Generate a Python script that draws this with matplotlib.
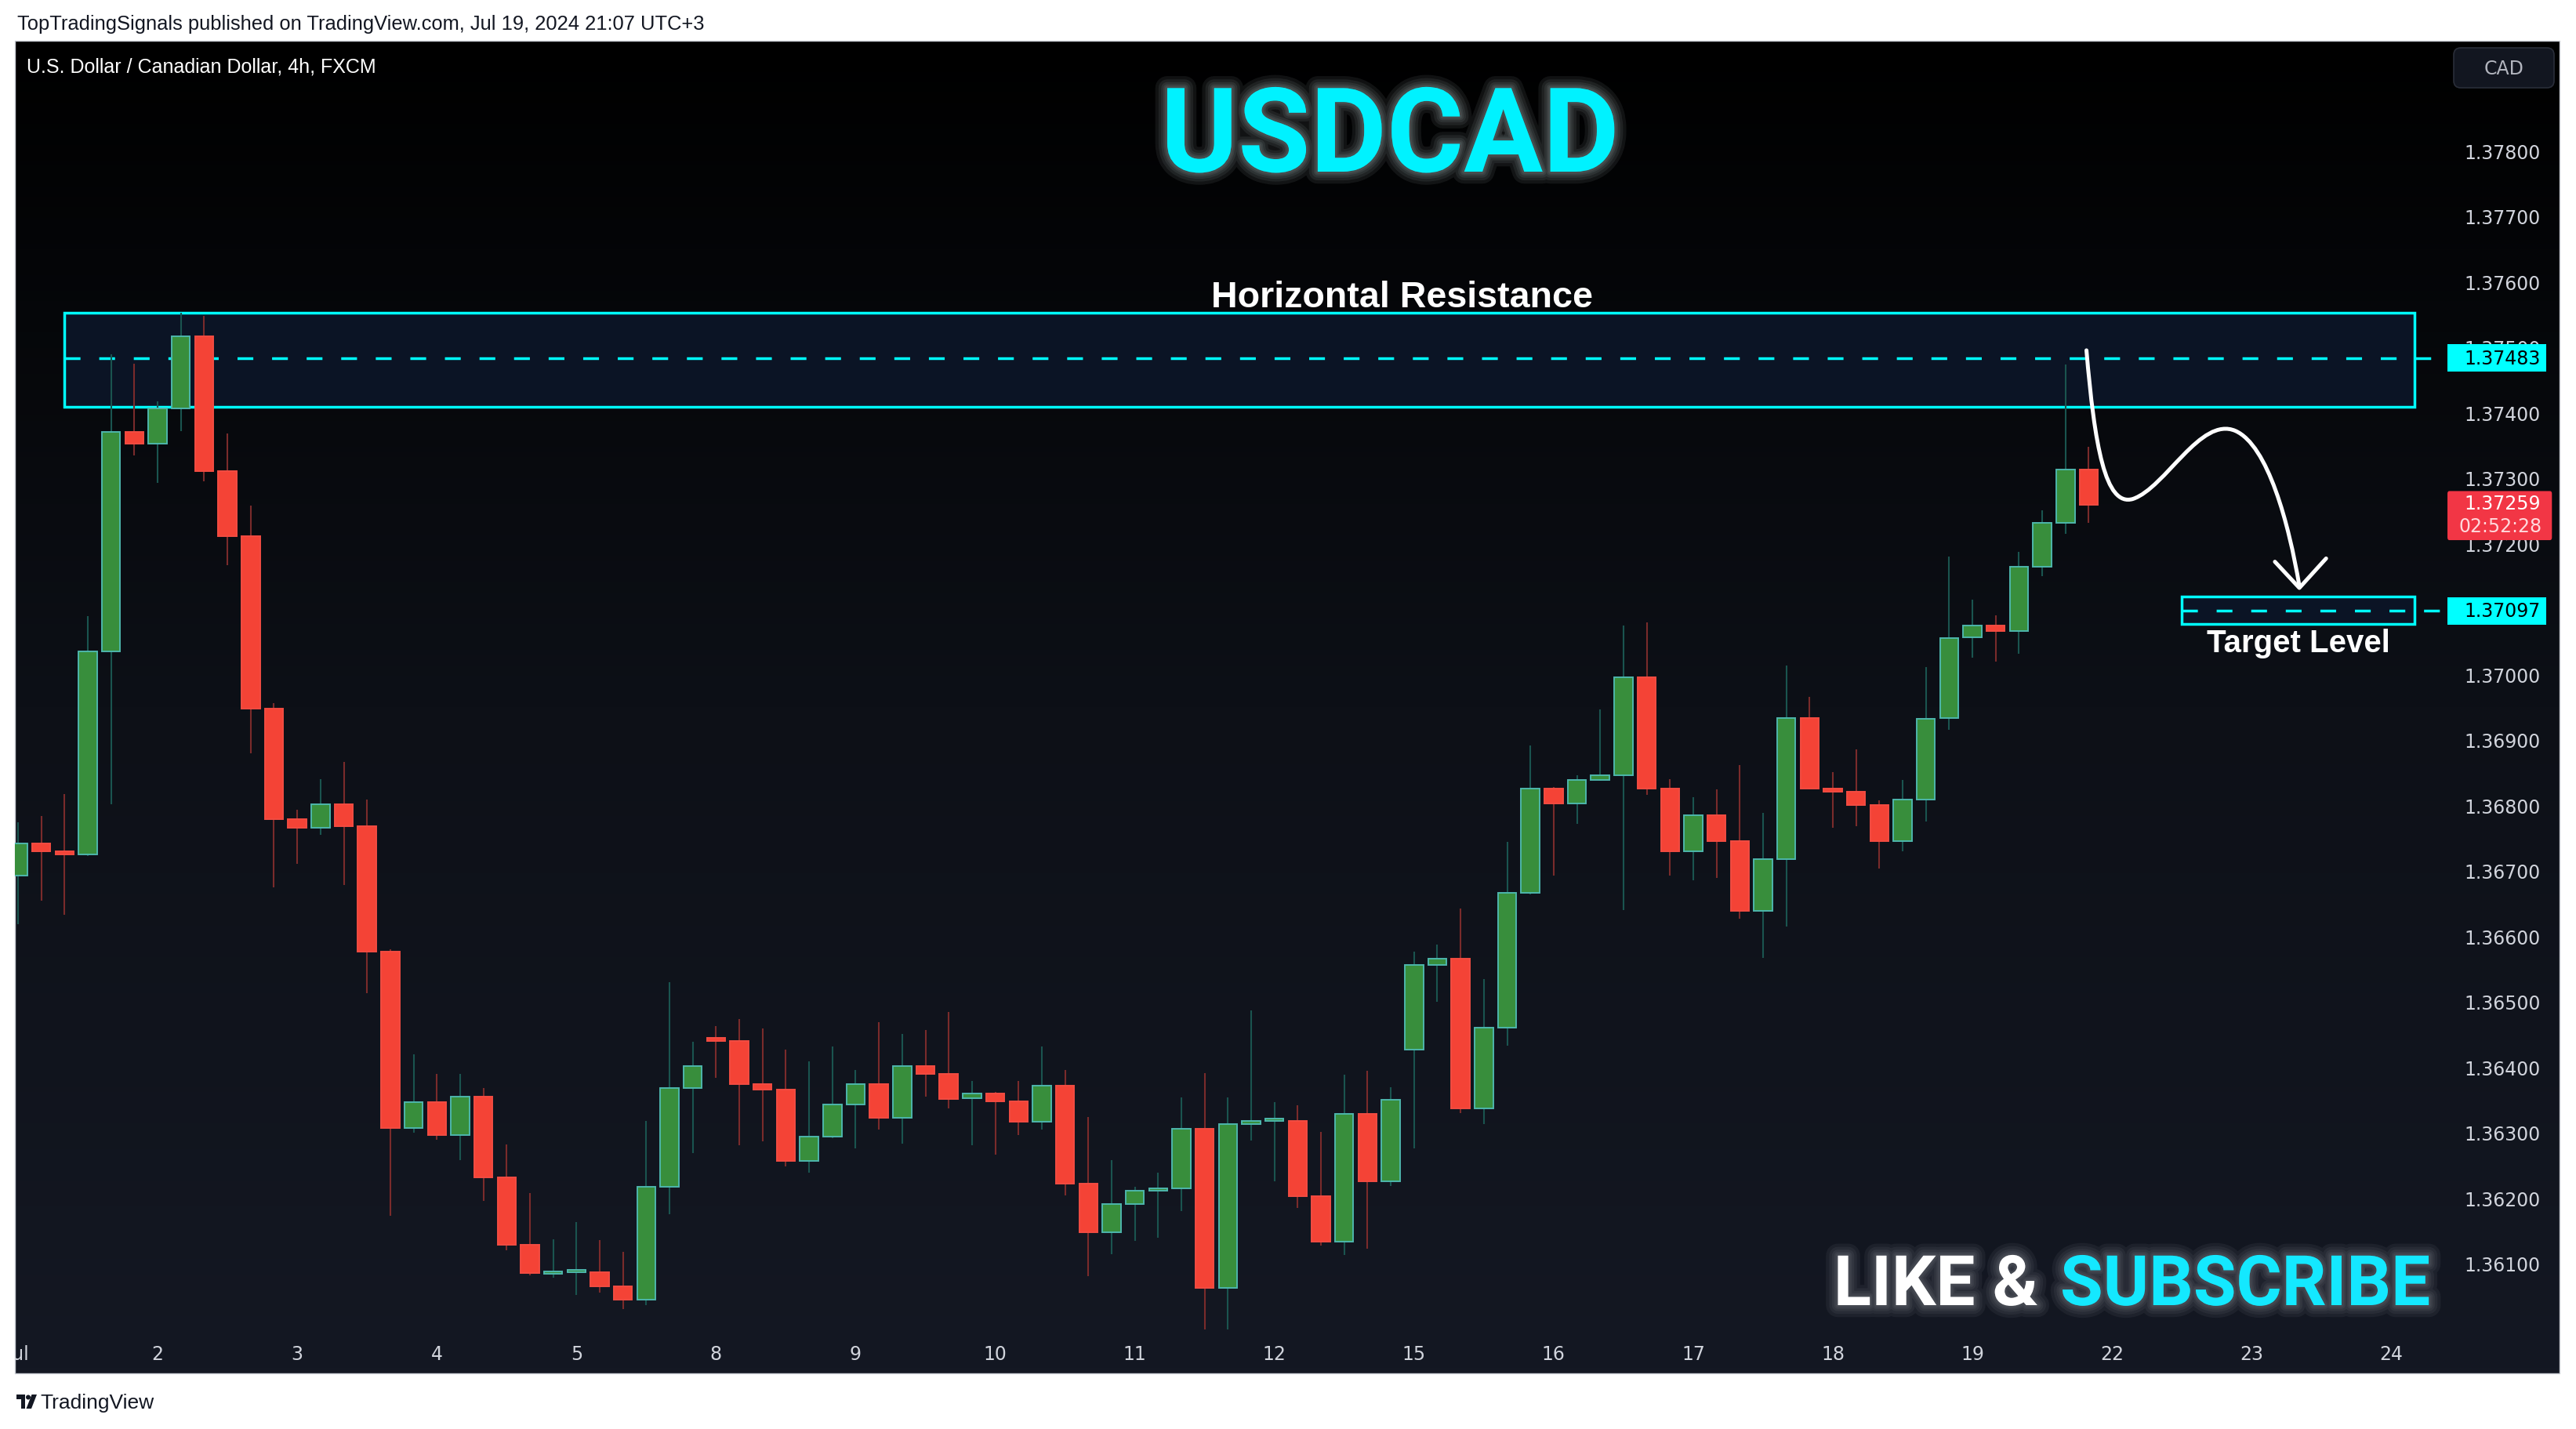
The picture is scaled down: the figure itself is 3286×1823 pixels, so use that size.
import matplotlib
matplotlib.use('Agg')
import matplotlib.pyplot as plt
import matplotlib.font_manager as fm
import numpy as np
from matplotlib import patheffects as pe
from matplotlib.colors import LinearSegmentedColormap
from matplotlib.patches import Rectangle, FancyBboxPatch, PathPatch, Polygon, Circle
from matplotlib.path import Path
from matplotlib.transforms import Affine2D


###############################################################################
# Data (USDCAD, 4h bars, FXCM)
###############################################################################

day_labels = ['Jul', '2', '3', '4', '5', '8', '9', '10', '11', '12',
              '15', '16', '17', '18', '19', '22', '23', '24']
bars_per_day = 6

opens = [
    1.36693, 1.36741, 1.36730, 1.36725, 1.37035, 1.37370,
    1.37352, 1.37406, 1.37516, 1.37310, 1.37211, 1.36948,
    1.36779, 1.36765, 1.36801, 1.36768, 1.36576, 1.36307,
    1.36346, 1.36296, 1.36355, 1.36231, 1.36128, 1.36084,
    1.36086, 1.36087, 1.36065, 1.36045, 1.36217, 1.36368,
    1.36445, 1.36440, 1.36374, 1.36365, 1.36256, 1.36294,
    1.36343, 1.36374, 1.36322, 1.36401, 1.36390, 1.36352,
    1.36359, 1.36347, 1.36316, 1.36372, 1.36222, 1.36147,
    1.36191, 1.36211, 1.36214, 1.36306, 1.36063, 1.36313,
    1.36317, 1.36318, 1.36203, 1.36133, 1.36328, 1.36225,
    1.36426, 1.36556, 1.36565, 1.36337, 1.36460, 1.36666,
    1.36826, 1.36803, 1.36839, 1.36846, 1.36995, 1.36826,
    1.36730, 1.36785, 1.36745, 1.36639, 1.36718, 1.36933,
    1.36826, 1.36821, 1.36800, 1.36745, 1.36809, 1.36933,
    1.37056, 1.37074, 1.37066, 1.37164, 1.37232, 1.37313,
]
highs = [
    1.36774, 1.36784, 1.36817, 1.37089, 1.37489, 1.37474,
    1.37417, 1.37552, 1.37548, 1.37368, 1.37258, 1.36956,
    1.36793, 1.36840, 1.36866, 1.36809, 1.36580, 1.36419,
    1.36390, 1.36390, 1.36368, 1.36282, 1.36207, 1.36137,
    1.36163, 1.36135, 1.36117, 1.36317, 1.36530, 1.36438,
    1.36462, 1.36473, 1.36459, 1.36427, 1.36409, 1.36431,
    1.36396, 1.36469, 1.36450, 1.36456, 1.36484, 1.36379,
    1.36362, 1.36379, 1.36431, 1.36395, 1.36323, 1.36258,
    1.36217, 1.36239, 1.36353, 1.36391, 1.36354, 1.36487,
    1.36346, 1.36342, 1.36301, 1.36388, 1.36394, 1.36369,
    1.36576, 1.36587, 1.36642, 1.36534, 1.36744, 1.36891,
    1.36828, 1.36846, 1.36946, 1.37075, 1.37079, 1.36840,
    1.36812, 1.36824, 1.36861, 1.36788, 1.37014, 1.36965,
    1.36850, 1.36885, 1.36808, 1.36839, 1.37011, 1.37180,
    1.37114, 1.37090, 1.37187, 1.37250, 1.37473, 1.37348,
]
lows = [
    1.36618, 1.36654, 1.36633, 1.36722, 1.36801, 1.37335,
    1.37293, 1.37372, 1.37295, 1.37167, 1.36879, 1.36674,
    1.36711, 1.36755, 1.36678, 1.36513, 1.36173, 1.36300,
    1.36289, 1.36258, 1.36196, 1.36120, 1.36082, 1.36078,
    1.36052, 1.36055, 1.36030, 1.36036, 1.36175, 1.36268,
    1.36384, 1.36281, 1.36287, 1.36248, 1.36239, 1.36291,
    1.36276, 1.36305, 1.36283, 1.36355, 1.36337, 1.36281,
    1.36266, 1.36296, 1.36304, 1.36204, 1.36080, 1.36114,
    1.36134, 1.36139, 1.36180, 1.35990, 1.35990, 1.36288,
    1.36225, 1.36185, 1.36127, 1.36113, 1.36122, 1.36218,
    1.36276, 1.36500, 1.36330, 1.36313, 1.36433, 1.36664,
    1.36693, 1.36771, 1.36837, 1.36640, 1.36816, 1.36692,
    1.36685, 1.36689, 1.36627, 1.36567, 1.36615, 1.36824,
    1.36766, 1.36768, 1.36703, 1.36730, 1.36775, 1.36915,
    1.37026, 1.37020, 1.37031, 1.37150, 1.37215, 1.37232,
]
closes = [
    1.36741, 1.36729, 1.36725, 1.37035, 1.37370, 1.37352,
    1.37406, 1.37516, 1.37310, 1.37211, 1.36948, 1.36779,
    1.36765, 1.36801, 1.36768, 1.36576, 1.36307, 1.36346,
    1.36296, 1.36355, 1.36231, 1.36128, 1.36085, 1.36086,
    1.36088, 1.36065, 1.36044, 1.36217, 1.36368, 1.36402,
    1.36440, 1.36374, 1.36365, 1.36256, 1.36294, 1.36343,
    1.36374, 1.36322, 1.36401, 1.36390, 1.36351, 1.36359,
    1.36347, 1.36316, 1.36372, 1.36222, 1.36147, 1.36191,
    1.36211, 1.36214, 1.36306, 1.36063, 1.36313, 1.36317,
    1.36319, 1.36203, 1.36133, 1.36328, 1.36225, 1.36350,
    1.36556, 1.36565, 1.36337, 1.36460, 1.36666, 1.36826,
    1.36803, 1.36839, 1.36846, 1.36995, 1.36826, 1.36730,
    1.36785, 1.36745, 1.36639, 1.36718, 1.36933, 1.36826,
    1.36821, 1.36800, 1.36745, 1.36809, 1.36932, 1.37055,
    1.37074, 1.37066, 1.37164, 1.37232, 1.37313, 1.37259,
]

price_ticks = [1.361, 1.362, 1.363, 1.364, 1.365, 1.366, 1.367, 1.368, 1.369,
               1.370, 1.371, 1.372, 1.373, 1.374, 1.375, 1.376, 1.377, 1.378]

# Drawn zones
resistance_zone = (1.37409, 1.37553)
resistance_level = 1.37483
target_zone = (1.37077, 1.37119)
target_level = 1.37097
countdown = '02:52:28'


###############################################################################
# Layout / style
###############################################################################

W, H, DPI = 3286, 1824, 200
X_LEFT, X_RIGHT = -0.135, 104.28
Y_LOW, Y_HIGH = 1.35999, 1.37968

CYAN = '#00ffff'
UP_FILL, UP_EDGE, UP_WICK = '#388e3c', '#4db6ac', '#1a544f'
DN_FILL, DN_EDGE, DN_WICK = '#f44336', '#f24c42', '#7a2b2b'
AXIS_TEXT = '#d1d4dc'

installed = {f.name for f in fm.fontManager.ttflist}
NARROW = 'Liberation Sans Narrow' if 'Liberation Sans Narrow' in installed else 'Roboto'
UI = 'Liberation Sans'

plt.rcParams['font.family'] = ['DejaVu Sans']

# Pixel coordinates, origin top-left (figure dpi == save dpi)
px = Affine2D().scale(1, -1).translate(0, H)


def glow(color, widths=(11, 8, 5.5, 3.5, 2), alpha=0.07):
    """Soft neon glow made of stacked translucent strokes"""
    effects = [pe.Stroke(linewidth=w, foreground=color, alpha=alpha)
               for w in widths]
    return effects + [pe.Normal()]


###############################################################################
# Figure and panel
###############################################################################

figure = plt.figure(figsize=(W / DPI, H / DPI), dpi=DPI, facecolor='white')

panel = figure.add_axes([19 / W, 1 - 1753 / H, 3246 / W, 1700 / H])
cmap = LinearSegmentedColormap.from_list('tv', ['#000000', '#0d1017', '#141823'])
panel.imshow(np.linspace(0, 1, 256).reshape(-1, 1), cmap=cmap, aspect='auto',
             extent=(0, 1, 0, 1))
panel.set_axis_off()
figure.add_artist(Rectangle((19, 53), 3246, 1700, transform=px, fill=False,
                            edgecolor='#c9ccd3', linewidth=0.5))

ax = figure.add_axes([19 / W, 1 - 1697 / H, 3099 / W, 1644 / H])
ax.set_zorder(2)
ax.set_facecolor('none')
ax.set_xlim(X_LEFT, X_RIGHT)
ax.set_ylim(Y_LOW, Y_HIGH)
for spine in ax.spines.values():
    spine.set_visible(False)


###############################################################################
# Candles
###############################################################################

idx = np.arange(len(closes))
o, h, l, c = map(np.array, (opens, highs, lows, closes))
up = c >= o
body_lo = np.minimum(o, c)
body_h = np.maximum(np.abs(c - o), 0.00004)

ax.vlines(idx[up], l[up], h[up], colors=UP_WICK, linewidth=0.75, zorder=3)
ax.vlines(idx[~up], l[~up], h[~up], colors=DN_WICK, linewidth=0.75, zorder=3)
ax.bar(idx[up], body_h[up], bottom=body_lo[up], width=0.79, color=UP_FILL,
       edgecolor=UP_EDGE, linewidth=0.7, zorder=4)
ax.bar(idx[~up], body_h[~up], bottom=body_lo[~up], width=0.79, color=DN_FILL,
       edgecolor=DN_EDGE, linewidth=0.7, zorder=4)


###############################################################################
# Zones, levels and arrow
###############################################################################

# Horizontal resistance
ax.add_patch(Rectangle((2.0, resistance_zone[0]), 101.0,
                       resistance_zone[1] - resistance_zone[0],
                       facecolor='#0b1425', edgecolor=CYAN, linewidth=1.25,
                       zorder=1))
ax.hlines(resistance_level, 2.0, X_RIGHT, colors=CYAN, linewidth=1.25,
          linestyles=(0, (5.8, 6.9)), zorder=2)
ax.text(59.5, 1.37562, 'Horizontal Resistance', ha='center', va='baseline',
        color='white', fontsize=16.8, fontweight='bold', family=UI, zorder=6)

# Target level
ax.add_patch(Rectangle((93.0, target_zone[0]), 10.0,
                       target_zone[1] - target_zone[0],
                       facecolor='#0b1425', edgecolor=CYAN, linewidth=1.25,
                       zorder=1))
ax.hlines(target_level, 93.0, X_RIGHT, colors=CYAN, linewidth=1.25,
          linestyles=(0, (5.8, 6.9)), zorder=2)
ax.text(98.0, 1.37035, 'Target Level', ha='center', va='baseline',
        color='white', fontsize=14.5, fontweight='bold', family=UI, zorder=6)

# Expected path
verts = [(88.9, 1.37495),
         (89.25, 1.37350), (89.7, 1.37255), (90.9, 1.37268),
         (92.3, 1.37285), (93.8, 1.37395), (95.3, 1.37372),
         (96.7, 1.37350), (97.6, 1.37230), (98.05, 1.37135)]
codes = [Path.MOVETO] + [Path.CURVE4] * 9
ax.add_patch(PathPatch(Path(verts, codes), fill=False, edgecolor='white',
                       linewidth=1.8, capstyle='round', zorder=7))
ax.plot([97.0, 98.05, 99.2], [1.37172, 1.37132, 1.37177], color='white',
        linewidth=1.8, solid_capstyle='round', zorder=7)


###############################################################################
# Axes labels
###############################################################################

ax.yaxis.tick_right()
ax.set_yticks(price_ticks, labels=[f'{p:.5f}' for p in price_ticks])
ax.tick_params(axis='y', length=0, pad=9, labelsize=8.5, labelcolor=AXIS_TEXT)

day_starts = [k * bars_per_day for k in range(len(day_labels))]
ax.set_xticks(day_starts, labels=day_labels)
ax.tick_params(axis='x', length=0, pad=7, labelsize=8.5, labelcolor=AXIS_TEXT)
ax.get_xticklabels()[0].set_clip_path(panel.patch)

# Price tags on the scale
ytrans = ax.get_yaxis_transform()
tag_x0, tag_w, txt_x = 1.0013, 0.0407, 1.0081
for level in (resistance_level, target_level):
    ax.add_patch(Rectangle((tag_x0, level - 0.00021), tag_w, 0.00042,
                           transform=ytrans, facecolor=CYAN, edgecolor='none',
                           clip_on=False, zorder=10))
    ax.text(txt_x, level, f'{level:.5f}', transform=ytrans, ha='left',
            va='center', fontsize=8.5, color='#000000', clip_on=False,
            zorder=11)

last = closes[-1]
ax.add_patch(FancyBboxPatch((tag_x0, last - 0.00054), tag_w + 0.0023, 0.00075,
                            boxstyle='round,pad=0,rounding_size=0.0008',
                            transform=ytrans, facecolor='#f23645',
                            edgecolor='none', clip_on=False, zorder=10,
                            mutation_aspect=0.05))
ax.text(txt_x, last + 0.00002, f'{last:.5f}', transform=ytrans, ha='left',
        va='center', fontsize=8.5, color='white', clip_on=False, zorder=11)
ax.text(txt_x - 0.002, last - 0.00032, countdown, transform=ytrans, ha='left',
        va='center', fontsize=8.5, color='#ffd9dc', clip_on=False, zorder=11)


###############################################################################
# Overlay texts
###############################################################################

figure.text(22, 31, 'TopTradingSignals published on TradingView.com, '
            'Jul 19, 2024 21:07 UTC+3', transform=px, va='center',
            ha='left', fontsize=9.2, color='#131722', family=UI)
figure.text(34, 86, 'U.S. Dollar / Canadian Dollar, 4h, FXCM', transform=px,
            va='center', ha='left', fontsize=9, color='white', family=UI)

figure.add_artist(FancyBboxPatch((3130, 62), 128, 51, transform=px,
                                 boxstyle='round,pad=0,rounding_size=9',
                                 facecolor='#121620', edgecolor='#2a2e39',
                                 linewidth=0.6))
figure.text(3194, 88, 'CAD', transform=px, ha='center', va='center',
            fontsize=8.5, color='#b2b5be')

figure.text(1773, 220, 'USDCAD', transform=px, ha='center', va='baseline',
            fontsize=54, fontweight='bold', family='Roboto', color='#00f2ff',
            path_effects=glow('#e6ffff'))

like_size = 35 if NARROW != 'Roboto' else 32
figure.text(2600, 1666, 'LIKE &', transform=px, ha='right', va='baseline',
            fontsize=like_size, fontweight='bold', family=NARROW,
            color='white', path_effects=glow('#d5d9e0', alpha=0.06))
figure.text(2628, 1666, 'SUBSCRIBE', transform=px, ha='left', va='baseline',
            fontsize=like_size, fontweight='bold', family=NARROW,
            color='#14e8ff', path_effects=glow('#d5d9e0', alpha=0.06))

# TradingView footer logo
figure.add_artist(Polygon([(21, 1780), (32, 1780), (32, 1798), (26.5, 1798),
                           (26.5, 1786), (21, 1786)], closed=True,
                          transform=px, facecolor='#131722', edgecolor='none'))
figure.add_artist(Circle((36, 1783.5), 3, transform=px, facecolor='#131722',
                         edgecolor='none'))
figure.add_artist(Polygon([(40.5, 1780), (47, 1780), (40, 1798), (33.5, 1798)],
                          closed=True, transform=px, facecolor='#131722',
                          edgecolor='none'))
figure.text(51, 1790, 'TradingView', transform=px, ha='left', va='center',
            fontsize=9.5, color='#131722', family=UI)

figure.savefig('out.png', dpi=DPI, facecolor='white')
